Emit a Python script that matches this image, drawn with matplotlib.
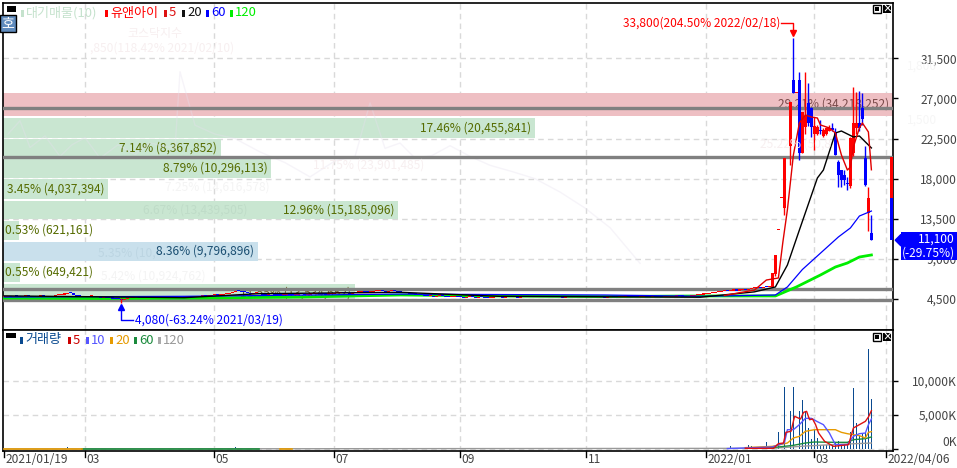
import matplotlib
matplotlib.use("Agg")
import matplotlib.pyplot as plt
from matplotlib.patches import Rectangle

plt.rcParams["font.family"] = ["Noto Sans CJK KR", "DejaVu Sans"]

W, H = 957, 468
FS = 8.6
FS_LEG = 9.4

# price ticks
price_ticks = [4500, 9000, 13500, 18000, 22500, 27000, 31500]
price_labels = ["4,500", "9,000", "13,500", "18,000", "22,500", "27,000", "31,500"]
vol_ticks = [0, 5000, 10000]
vol_labels = ["0K", "5,000K", "10,000K"]

# x ticks, bar number of each month start
date_pos = [0, 27, 70, 110, 152, 194, 234, 270, 294]
date_grid = [27, 70, 110, 152, 194, 234, 270, 294]
date_labels = ["2021/01/19", "03", "05", "07", "09", "11", "2022/01", "03", "2022/04/06"]

# volume profile
prof_pct = [29.21, 17.46, 7.14, 8.79, 3.45, 12.96, 0.53, 8.36, 0.55, 11.55]
prof_txt = ["29.21% (34,218,252)", "17.46% (20,455,841)", "7.14% (8,367,852)", "8.79% (10,296,113)",
            "3.45% (4,037,394)", "12.96% (15,185,096)", "0.53% (621,161)", "8.36% (9,796,896)",
            "0.55% (649,421)", "11.55% (13,534,652)"]
prof_top = [27610, 24810, 22450, 20210, 17960, 15500, 13250, 10900, 8540, 6180]
prof_bot = [25030, 22560, 20320, 18080, 15720, 13480, 11120, 8760, 6410, 4160]
prof_col = ["#eebfc3", "#c9e6d1", "#c9e6d1", "#c9e6d1", "#c9e6d1", "#c9e6d1", "#c9e6d1", "#c9e0ec", "#c9e6d1", "#c9e6d1"]
prof_txtcol = ["#7a4a4a", "#556b00", "#556b00", "#556b00", "#556b00", "#556b00", "#556b00", "#1b4f72", "#556b00", "#6b5a20"]

# support / resistance lines
level_lines = [25930, 20430, 5620, 4390]

# closes for the flat stretch, bars 0..255
flat_close = [
    4750, 4800, 4720, 4850, 4780, 4700, 4800, 4900, 4850, 4760,
    4700, 4780, 4850, 4800, 4720, 4680, 4800, 4900, 4950, 5000,
    5100, 5200, 5150, 5000, 4880, 4800, 4750, 4700, 4780, 4820,
    4760, 4700, 4650, 4700, 4620, 4600, 4550, 4500, 4450, 4350,
    4500, 4600, 4650, 4700, 4680, 4620, 4600, 4650, 4700, 4720,
    4680, 4640, 4600, 4650, 4700, 4760, 4720, 4680, 4650, 4700,
    4750, 4800, 4750, 4700, 4760, 4800, 4850, 4780, 4850, 4900,
    4950, 4900, 4980, 5050, 5100, 5200, 5300, 5400, 5350, 5300,
    5250, 5200, 5100, 5150, 5200, 5100, 5000, 4950, 5050, 5100,
    5000, 4950, 4900, 4980, 5050, 5000, 4950, 5000, 5100, 5050,
    4980, 5000, 5050, 5100, 5150, 5100, 5050, 5000, 5050, 5100,
    5150, 5200, 5250, 5200, 5150, 5100, 5150, 5250, 5300, 5350,
    5300, 5250, 5300, 5350, 5400, 5400, 5350, 5300, 5350, 5400,
    5350, 5300, 5250, 5200, 5150, 5100, 5050, 5000, 4950, 4900,
    4850, 4800, 4800, 4750, 4800, 4850, 4800, 4750, 4700, 4750,
    4800, 4750, 4700, 4650, 4700, 4750, 4700, 4650, 4700, 4680,
    4640, 4600, 4650, 4700, 4720, 4680, 4650, 4700, 4750, 4720,
    4680, 4640, 4700, 4780, 4750, 4700, 4680, 4720, 4750, 4700,
    4680, 4720, 4800, 4760, 4720, 4700, 4650, 4680, 4720, 4760,
    4720, 4700, 4680, 4720, 4760, 4800, 4750, 4700, 4720, 4680,
    4650, 4700, 4750, 4720, 4680, 4700, 4750, 4900, 4780, 4720,
    4700, 4680, 4720, 4760, 4720, 4700, 4750, 4720, 4700, 4680,
    4700, 4720, 4750, 4780, 4820, 4800, 4780, 4750, 4800, 4850,
    4900, 4950, 5000, 5050, 5100, 5150, 5200, 5250, 5300, 5350,
    5400, 5350, 5450, 5500, 5450, 5550, 5600, 5500, 5650, 5700,
    5750, 5800, 5700, 5850, 5800, 5900,
]

# candles after the run-up starts: bar, open, high, low, close
cd_bar = [256, 257, 258, 259, 260, 262, 263, 264, 265, 266, 267, 268, 269, 270, 271, 272, 273,
          274, 275, 276, 277, 278, 279, 280, 281, 282, 283, 284, 285, 286, 287, 288, 289]
cd_open = [5850, 7300, 12240, 15830, 14710, 21670, 29070, 27610, 29070, 20880, 23800, 26490, 25930,
           23010, 23010, 23350, 22790, 23000, 23350, 23690, 23240, 19870, 18970, 18410, 17520,
           17180, 20880, 23700, 24250, 25930, 20320, 14150, 11910]
cd_high = [7420, 9440, 12240, 15830, 20320, 26600, 33800, 27610, 29970, 25480, 29970, 28735, 26000,
           24920, 24000, 24580, 23700, 23800, 24000, 24250, 23690, 20100, 19000, 18970, 18200,
           22700, 28290, 27725, 27840, 27610, 21670, 17070, 13920]
cd_low = [5850, 7100, 12240, 15830, 13920, 19500, 27610, 27610, 20100, 20880, 23000, 23900, 22700,
          21220, 22900, 23010, 22700, 22900, 23300, 23300, 20660, 17070, 17070, 17300, 16730,
          17000, 20600, 23000, 23400, 24000, 17200, 12130, 11100]
cd_close = [7420, 9440, 12240, 15830, 20320, 26600, 27610, 27610, 20880, 25480, 25000, 24250, 23800,
            23910, 23800, 23300, 23460, 23690, 23690, 23500, 20660, 18410, 17850, 17900, 17400,
            22560, 24250, 24250, 23690, 24700, 17290, 15830, 11100]

# price moving averages
ma5_x = [240, 250, 254, 258, 259.5, 261, 263, 265, 267, 269, 271, 272, 275, 277,
         279, 281, 282, 283, 285, 286, 288, 289]
ma5_y = [4900, 5500, 6630, 6860, 10900, 14500, 20660, 24250, 25150, 24920,
         24810, 24030, 23690, 23130, 20660, 18970, 19300, 21560, 23690, 24250, 23240, 19000]
ma20_x = [0, 60, 85, 132, 165, 232, 250, 257, 261, 265, 271, 273, 277, 279, 283, 285, 289]
ma20_y = [4850, 4650, 5100, 5250, 4800, 4700, 5300, 5850, 8310, 12240, 18080, 18970, 23130, 23350,
          22680, 22790, 21450]
ma60_x = [0, 60, 132, 200, 232, 257, 261, 266, 278, 282, 285, 289]
ma60_y = [4720, 4800, 5050, 4950, 4800, 4950, 5850, 7810, 11460, 12470, 13810, 14370]
ma120_x = [0, 32, 65, 99, 132, 165, 199, 232, 257, 264, 272, 277, 281, 285, 289]
ma120_y = [4610, 4560, 4610, 4720, 4950, 4840, 4780, 4840, 4840, 5850, 7190, 8090, 8540, 9210, 9440]

# last day column at the right edge
last_col_x = 295.8
last_col_red = [20400, 15800]
last_col_blue = [15800, 11100]
last_price = 11100

# volume, thousand shares
vol_bar = [21, 77, 242, 248, 249, 254, 258, 260, 262, 263, 265, 266, 267, 268, 269, 270, 271, 272, 273,
           274, 275, 276, 277, 278, 279, 280, 281, 282, 283, 284, 285, 286, 287, 288, 289]
vol_val = [300, 300, 490, 640, 490, 980, 2550, 9160, 5640, 9160, 5640, 7250, 5540, 3090, 1500, 2840, 1620,
           640, 590, 640, 590, 640, 1000, 1130, 640, 640, 640, 2550, 9020, 3870, 1860, 2350, 2350, 14750, 7400]
vma5_x = [247, 256.4, 258, 259.7, 260.5, 262.2, 263.4, 265.4, 266.4, 267.4, 268.4, 269.4, 270.4, 271.4, 273.4,
          276.4, 281.4, 283, 285, 287, 288, 289]
vma5_y = [100, 100, 784, 882, 2450, 2600, 4800, 4410, 5390, 5540, 4310, 4410, 3580, 2350, 1130, 390, 640,
          3090, 3580, 4070, 4700, 5640]
vma10_x = [241, 256, 260, 261, 263, 265, 267, 269, 271, 273, 275, 277, 281, 283, 285, 287, 288, 289]
vma10_y = [60, 300, 880, 2840, 2840, 3580, 4510, 4510, 4020, 3580, 2350, 640, 640, 1860, 2250, 2350,
           3580, 4410]
vma20_x = [247, 256, 261, 263, 265, 267, 270, 277, 279, 281, 285, 287, 288, 289]
vma20_y = [200, 390, 880, 1620, 1860, 2600, 2840, 2840, 2450, 2250, 1960, 1620, 2450, 2550]
vma60_x = [247, 256, 263, 267, 270, 277, 281, 283, 287, 289]
vma60_y = [100, 200, 540, 880, 1030, 980, 980, 1370, 1520, 1770]
vma120_x = [0, 256, 267, 276, 289]
vma120_y = [0, 100, 440, 640, 880]
vbase_orange = [[0, 26], [92, 96]]
vbase_green = [[26, 85]]

# faint chart showing through behind
ghost_x = [8, 20, 30, 45, 60, 72, 85, 100, 118, 135, 150, 175, 180, 195, 215, 235, 260, 285, 310, 335, 355,
           370, 385, 400, 415, 432, 450, 470, 490, 512, 535, 560, 585, 610, 640]
ghost_y = [23000, 24500, 21500, 22800, 20500, 21800, 22600, 20300, 21800, 20700, 22000, 21400, 30000, 24000,
           23000, 22500, 21000, 19800, 18200, 20000, 20500, 26500, 21400, 22000, 20300, 20600, 21700, 20500,
           19500, 18800, 18000, 16500, 14700, 12500, 8500]
ghost_txt = ["7.25% (14,616,578)", "6.67% (13,439,505)", "5.35% (10,", "5.42% (10,924,762)", "11.75% (23,901,485)",
             "25.22% (50,8", ",850(118.42% 2021/02/10)", "코스닥지수", "1,800", "1,500"]

fig = plt.figure(figsize=(W / 100, H / 100), dpi=100, facecolor="white")


def panel(x0, y0, x1, y1):
    return fig.add_axes([x0 / W, 1 - y1 / H, (x1 - x0) / W, (y1 - y0) / H])


def ftext(x, y, s, **kw):
    kw.setdefault("fontsize", FS)
    kw.setdefault("va", "center")
    fig.text(x / W, 1 - y / H, s, **kw)


def fbox(x, y, w, h, color, **kw):
    fig.add_artist(Rectangle((x / W, 1 - (y + h) / H), w / W, h / H, transform=fig.transFigure,
                             facecolor=color, edgecolor=kw.pop("ec", "none"), lw=kw.pop("lw", 0), **kw))


ax = panel(3, 3, 893, 330)
ax2 = panel(3, 330, 893, 451)
ax.set_xlim(-0.43, 296.2)
ax2.set_xlim(-0.43, 296.2)
ax.set_ylim(1022, 37711)
ax2.set_ylim(-294, 17500)

for a in (ax, ax2):
    for s in ("left", "top", "right", "bottom"):
        a.spines[s].set_linewidth(1.2)
        a.spines[s].set_color("black")
    a.yaxis.tick_right()
    a.set_axisbelow(True)
    a.grid(True, color="#d9d9d9", linestyle=(0, (4, 3)), linewidth=1)

# main panel
ax.set_xticks(date_grid)
ax.tick_params(axis="x", length=0, labelbottom=False)
ax.set_yticks(price_ticks)
ax.set_yticklabels(price_labels, fontsize=FS, color="#444444", ha="right")
ax.tick_params(axis="y", length=3.6, width=1, pad=42.5)

prof_w = [p / max(prof_pct) * 296.6 for p in prof_pct]
for i in range(len(prof_pct)):
    ax.barh(prof_bot[i], prof_w[i], height=prof_top[i] - prof_bot[i], left=-0.43, align="edge",
            color=prof_col[i], zorder=1)
    if prof_pct[i] < 1:
        ax.text(0.2, (prof_top[i] + prof_bot[i]) / 2, prof_txt[i], ha="left", va="center",
                fontsize=FS, color=prof_txtcol[i], zorder=2)
    else:
        ax.text(prof_w[i] - 1.6, (prof_top[i] + prof_bot[i]) / 2, prof_txt[i], ha="right", va="center",
                fontsize=FS, color=prof_txtcol[i], zorder=2)

ghost_i = [(v - 4.3) / 3 for v in ghost_x]
ax.plot(ghost_i, ghost_y, color="#e6e0ee", lw=1, alpha=0.35, zorder=2)

for v in level_lines:
    ax.axhline(v, color="#808080", lw=2.4, zorder=3)

ax.plot(ma120_x, ma120_y, color="#00ee00", lw=2, zorder=5)

# flat stretch
prev = flat_close[0]
for i, c in enumerate(flat_close):
    col = "#ff0000" if c >= prev else "#0000ff"
    ax.bar(i, max(abs(c - prev), 120), bottom=min(c, prev), width=1.0, color=col, zorder=5.5)
    prev = c
ax.vlines(39, 4080, 4600, color="#ff0000", lw=1, zorder=5.5)

# candles
for b, o, h, l, c in zip(cd_bar, cd_open, cd_high, cd_low, cd_close):
    col = "#ff0000" if c >= o else "#0000ff"
    ax.vlines(b, l, h, color=col, lw=1, zorder=5.5)
    ax.bar(b, max(abs(c - o), 110), bottom=min(o, c), width=1.15, color=col, zorder=5.5)

ax.plot(ma60_x, ma60_y, color="#0000ff", lw=0.9, zorder=6)
ax.plot(ma20_x, ma20_y, color="#000000", lw=1, zorder=6)
ax.plot(ma5_x, ma5_y, color="#e00000", lw=1, zorder=6)

# last day column
ax.bar(last_col_x, last_col_red[0] - last_col_red[1], bottom=last_col_red[1], width=1, color="#ff0000", zorder=4)
ax.bar(last_col_x, last_col_blue[0] - last_col_blue[1], bottom=last_col_blue[1], width=1, color="#0000ff", zorder=4)

# high / low notes
ax.plot([259, 263, 263], [35500, 35500, 34500], color="#ff0000", lw=1, zorder=7)
ax.plot([263], [34400], marker="v", ms=4, color="#ff0000", zorder=7)
ax.text(258.7, 35500, "33,800(204.50% 2022/02/18)", color="#ff0000", ha="right", va="center", fontsize=FS, zorder=7)
ax.plot([39, 39, 43], [3600, 2100, 2100], color="#0000ff", lw=1, zorder=7)
ax.plot([39], [3600], marker="^", ms=4, color="#0000ff", zorder=7)
ax.text(43.5, 2100, "4,080(-63.24% 2021/03/19)", color="#0000ff", ha="left", va="center", fontsize=FS, zorder=7)

# volume panel
ax2.set_xticks(date_grid)
ax2.tick_params(axis="x", length=0, labelbottom=False)
ax2.set_yticks(vol_ticks)
ax2.set_yticklabels(vol_labels, fontsize=FS, color="#444444", ha="right")
ax2.tick_params(axis="y", length=3.6, width=1, pad=42.5)
# 0K sits a little above its tick, clear of the end date
ax2.get_yticklabels()[0].set_verticalalignment("bottom")
ax2.bar(vol_bar, vol_val, width=0.4, color="#0a4a90", zorder=3)
ax2.plot(vma120_x, vma120_y, color="#999999", lw=1, zorder=4)
ax2.plot(vma60_x, vma60_y, color="#1a8a3c", lw=1, zorder=5)
ax2.plot(vma20_x, vma20_y, color="#e69a00", lw=1, zorder=6)
ax2.plot(vma10_x, vma10_y, color="#5555ff", lw=1, zorder=7)
ax2.plot(vma5_x, vma5_y, color="#dd1111", lw=1, zorder=8)
for s in vbase_green:
    ax2.plot(s, [60, 60], color="#1a8a3c", lw=1.2, zorder=9)
for s in vbase_orange:
    ax2.plot(s, [60, 60], color="#e69a00", lw=1.2, zorder=9)

# date labels sit under the panel, tick at the left of each
for p, s in zip(date_pos, date_labels):
    ax2.plot([p, p], [0, -0.05], transform=ax2.get_xaxis_transform(), color="black", lw=1, clip_on=False)
    ax2.annotate(s, xy=(p, 0), xycoords=ax2.get_xaxis_transform(), xytext=(0.8, -1.5), textcoords="offset points",
                 ha="left", va="top", fontsize=FS, color="#444444", annotation_clip=False)

# current price tag
ytr = ax.get_yaxis_transform()
fbox(901, 232, 56, 28, "#0000ff", zorder=8)
ax.fill([1.0025, 1.009, 1.009], [last_price, last_price + 650, last_price - 650], transform=ytr,
        color="#0000ff", clip_on=False, zorder=8)
ftext(955, 239, "11,100", color="white", ha="right", zorder=9)
ftext(955, 253, "(-29.75%)", color="white", ha="right", zorder=9)

# ghost texts
gc = "#f7eff0"
ftext(165, 187, ghost_txt[0], color="#f4f4f4")
ftext(143, 210, ghost_txt[1], color="#bfdcc8")
ftext(98, 253, ghost_txt[2], color="#bcd5e2")
ftext(101, 276, ghost_txt[3], color="#f4f4f4")
ftext(313, 165, ghost_txt[4], color=gc)
ftext(760, 144, ghost_txt[5], color=gc)
ftext(90, 48, ghost_txt[6], color=gc)
ftext(127, 34, ghost_txt[7], color=gc)
ftext(907, 66, ghost_txt[8], color="#f6f6f6")
ftext(907, 120, ghost_txt[9], color="#f6f6f6")

# legend of main panel
fbox(7, 6, 9, 6, "black")
fbox(0, 15, 16, 17, "#5f8bbd", ec="black", lw=1)
ftext(8, 23, "호", color="white", ha="center", fontsize=10)
legend_main = [(21, "#c5e2cd", "대기매물(10)", "#c5e2cd"), (105, "#ff0000", "유앤아이", "#ff0000"),
               (164, "#dd1111", "5", "#dd1111"), (182, "#111111", "20", "#111111"),
               (206, "#0000ff", "60", "#0000ff"), (230, "#00ee00", "120", "#00ee00")]
for x, chip, s, col in legend_main:
    fbox(x, 10, 3, 7, chip)
    ftext(x + 5, 13, s, color=col, fontsize=FS_LEG)

# legend of volume panel
fbox(6, 333, 10, 5, "black")
legend_vol = [(20, "#0a4a90", "거래량", "#0a4a90"), (68, "#cc0000", "5", "#cc0000"),
              (86, "#5555ff", "10", "#5555ff"), (110, "#e69a00", "20", "#e69a00"),
              (134, "#1a8a3c", "60", "#1a8a3c"), (158, "#aaaaaa", "120", "#999999")]
for x, chip, s, col in legend_vol:
    fbox(x, 337, 3, 7, chip)
    ftext(x + 5, 340, s, color=col, fontsize=FS_LEG)

# window buttons
for y in (5, 333):
    fbox(873, y, 8, 8, "white", ec="black", lw=1)
    fbox(875, y + 2, 4, 4, "black")
    fbox(883, y, 8, 8, "black")
    ftext(887, y + 4, "×", color="white", ha="center", fontsize=7, fontweight="bold")

fig.savefig("out.png", dpi=100)
